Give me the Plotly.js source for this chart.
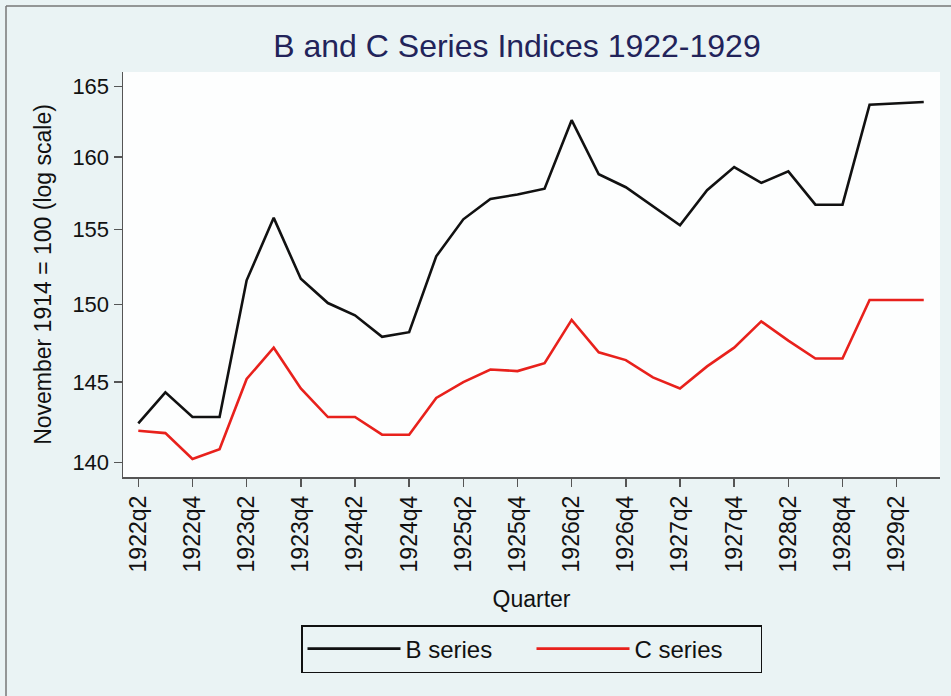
<!DOCTYPE html>
<html>
<head>
<meta charset="utf-8">
<script src="https://cdn.plot.ly/plotly-3.0.1.min.js"></script>
<style>
html,body{margin:0;padding:0;background:#eaf3f4;}
#chart{width:951px;height:696px;}
</style>
</head>
<body>
<div id="chart"></div>
<script>
var quarters = ["1922q2","1922q3","1922q4","1923q1","1923q2","1923q3","1923q4","1924q1","1924q2","1924q3",
  "1924q4","1925q1","1925q2","1925q3","1925q4","1926q1","1926q2","1926q3","1926q4","1927q1",
  "1927q2","1927q3","1927q4","1928q1","1928q2","1928q3","1928q4","1929q1","1929q2","1929q3"];

var bSeries = [142.4,144.35,142.8,142.8,151.6,155.8,151.7,150.1,149.3,147.9,
  148.2,153.2,155.7,157.1,157.4,157.8,162.6,158.8,157.9,156.6,
  155.3,157.7,159.3,158.2,159.0,156.7,156.7,163.7,163.8,163.9];

var cSeries = [141.95,141.8,140.2,140.8,145.2,147.2,144.6,142.8,142.8,141.7,
  141.7,144.0,145.0,145.8,145.7,146.2,149.0,146.9,146.4,145.3,
  144.6,146.0,147.2,148.9,147.65,146.5,146.5,150.3,150.3,150.3];

var xTickLabels = ["1922q2","1922q4","1923q2","1923q4","1924q2","1924q4","1925q2","1925q4",
  "1926q2","1926q4","1927q2","1927q4","1928q2","1928q4","1929q2"];

var yTickVals = [140,145,150,155,160,165];
var yTickText = ["140","145","150","155","160","165"];

var FONT = "Liberation Sans, Arial, sans-serif";

var traces = [
  {x: quarters, y: bSeries, type: "scatter", mode: "lines", name: "B series",
   line: {color: "#111111", width: 2.6}},
  {x: quarters, y: cSeries, type: "scatter", mode: "lines", name: "C series",
   line: {color: "#e8211c", width: 2.6}}
];

// pixel helpers for decorative frame (plot area: x 123..940, y 72..477)
function px(x){ return (x - 123) / 817; }
function py(y){ return (477 - y) / 405; }

var layout = {
  width: 951, height: 696,
  paper_bgcolor: "#eaf3f4",
  plot_bgcolor: "#fdfefe",
  margin: {l: 123, r: 11, t: 72, b: 219, pad: 0},
  font: {family: FONT, color: "#111111"},
  title: {text: "B and C Series Indices 1922-1929",
          font: {family: FONT, size: 32, color: "#22235a"},
          xref: "container", x: 517/951, xanchor: "center",
          yref: "container", y: 1 - 46/696, yanchor: "middle"},
  xaxis: {
    type: "category",
    range: [-0.565, 29.6],
    tickmode: "array", tickvals: xTickLabels, ticktext: xTickLabels,
    tickangle: -90,
    ticks: "outside", ticklen: 8, tickwidth: 1.5, tickcolor: "#555555",
    showline: true, linecolor: "#555555", linewidth: 1.5,
    showgrid: false, zeroline: false,
    tickfont: {family: FONT, size: 23, color: "#111111"},
    title: {text: "Quarter", font: {family: FONT, size: 23, color: "#111111"}, standoff: 19},
    fixedrange: true
  },
  yaxis: {
    type: "log",
    range: [2.143335, 2.220277],
    tickmode: "array", tickvals: yTickVals, ticktext: yTickText,
    ticks: "outside", ticklen: 8, tickwidth: 1.5, tickcolor: "#555555",
    showline: true, linecolor: "#555555", linewidth: 1.5,
    showgrid: false, zeroline: false,
    tickfont: {family: FONT, size: 22, color: "#111111"},
    title: {text: "November 1914 = 100 (log scale)", font: {family: FONT, size: 23, color: "#111111"}, standoff: 14},
    fixedrange: true
  },
  showlegend: true,
  legend: {
    orientation: "h",
    x: 0.5, xanchor: "center", xref: "paper",
    y: py(625), yanchor: "top", yref: "paper",
    bgcolor: "rgba(0,0,0,0)",
    bordercolor: "#111111", borderwidth: 1.5,
    font: {family: FONT, size: 24, color: "#111111"},
    itemwidth: 93,
    entrywidth: 121
  },
  shapes: [
    {type: "line", xref: "paper", yref: "paper", x0: px(6), x1: px(951), y0: py(6), y1: py(6),
     line: {color: "#777777", width: 1.5}},
    {type: "line", xref: "paper", yref: "paper", x0: px(6), x1: px(6), y0: py(6), y1: py(696),
     line: {color: "#777777", width: 1.5}}
  ]
};

Plotly.newPlot("chart", traces, layout, {displayModeBar: false, staticPlot: true});
</script>
</body>
</html>
